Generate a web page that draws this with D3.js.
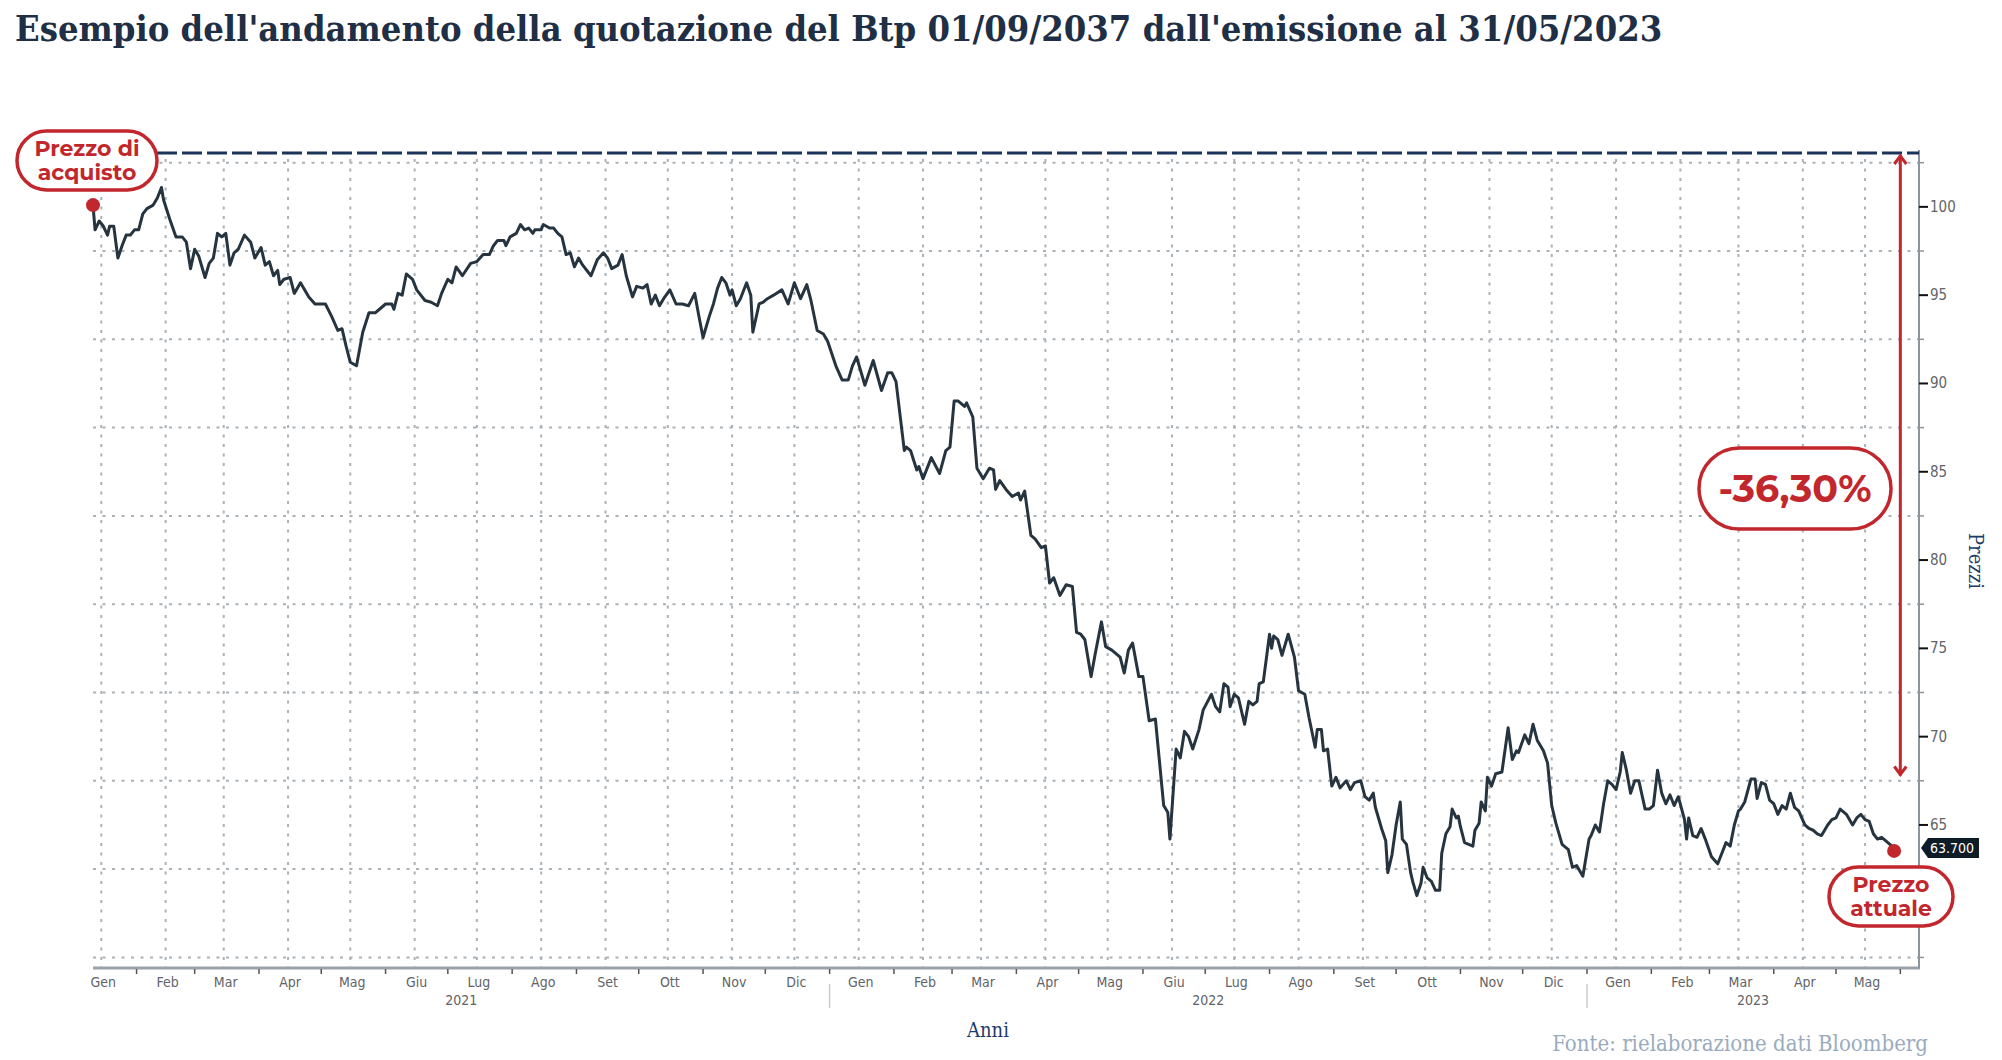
<!DOCTYPE html>
<html>
<head>
<meta charset="utf-8">
<title>Btp 01/09/2037</title>
<script type="text/javascript" src="https://cdnjs.cloudflare.com/ajax/libs/d3/7.8.5/d3.min.js"></script>
<style>
  body { margin: 0; background: #fff; }
</style>
</head>
<body>
<script type="text/javascript">
// prices (giorni, MM-DD)
var dates2021 = ['01-11','01-12','01-14','01-16','01-18','01-19','01-21','01-23','01-25','01-27','01-29','01-31',
  '02-02','02-04','02-06','02-09','02-11','02-13','02-14','02-17','02-20','02-23','02-25','02-27',
  '03-01','03-03','03-06','03-08','03-10','03-12','03-14','03-16','03-18','03-20','03-22','03-25','03-28','03-30',
  '04-02','04-04','04-06','04-08','04-10','04-11','04-13','04-16','04-18','04-21','04-25','04-28',
  '05-03','05-06','05-09','05-11','05-13','05-15','05-18','05-21','05-24','05-27',
  '06-01','06-04','06-05','06-07','06-09','06-11','06-14','06-16','06-20','06-23','06-26','06-28',
  '07-01','07-03','07-05','07-08','07-12','07-15','07-18','07-21','07-23','07-25','07-28','07-29','07-31',
  '08-03','08-05','08-07','08-09','08-11','08-12','08-15','08-16','08-19','08-21','08-23','08-25','08-27','08-29','08-31',
  '09-02','09-04','09-08','09-11','09-14','09-16','09-18','09-21','09-23','09-25','09-28','09-30',
  '10-03','10-05','10-07','10-09','10-11','10-13','10-16','10-19','10-22','10-25','10-28','10-30',
  '11-01','11-04','11-06','11-08','11-10','11-12','11-14','11-15','11-17','11-19','11-22','11-24','11-25','11-28','11-30',
  '12-02','12-05','12-09','12-12','12-15','12-18','12-21','12-23','12-26','12-29','12-31']
var prices2021 = [100.1,98.7,99.2,98.9,98.4,98.9,98.9,97.1,97.8,98.4,98.4,98.7,
  98.7,99.6,99.9,100.1,100.5,101.1,100.4,99.3,98.3,98.3,98.0,96.5,
  97.6,97.2,96.0,96.8,97.1,98.5,98.3,98.5,96.7,97.4,97.6,98.4,98.0,97.1,
  97.7,96.7,96.9,96.1,96.4,95.6,95.9,96.0,95.1,95.7,94.9,94.5,
  94.5,93.8,93.0,93.1,92.1,91.2,91.0,92.9,94.0,94.0,
  94.5,94.5,94.2,95.1,95.0,96.2,95.9,95.3,94.7,94.6,94.4,95.1,
  95.9,95.7,96.6,96.1,96.8,96.9,97.3,97.3,97.8,98.1,98.1,97.8,98.3,
  98.5,99.0,98.7,98.8,98.5,98.7,98.7,99.0,98.8,98.8,98.5,98.3,97.3,97.4,96.6,
  97.1,96.7,96.1,97.0,97.4,97.1,96.5,96.7,97.3,96.1,94.9,95.5,
  95.4,95.6,94.5,95.0,94.4,94.8,95.3,94.5,94.5,94.4,95.1,93.8,
  92.6,93.8,94.5,95.4,96.0,95.7,95.0,95.3,94.4,94.8,95.7,95.0,92.9,94.5,94.6,
  94.8,95.0,95.3,94.5,95.7,94.8,95.6,94.7,93.0,92.8,92.4]

var dates2022 = ['01-04','01-07','01-10','01-12','01-14','01-18','01-22','01-26','01-29','01-31',
  '02-02','02-06','02-07','02-09','02-12','02-13','02-15','02-19','02-23','02-26','02-28',
  '03-02','03-04','03-07','03-08','03-11','03-13','03-16','03-19','03-21','03-22','03-24','03-27','03-30',
  '04-02','04-03','04-05','04-08','04-10','04-13','04-15','04-17','04-19','04-22','04-25','04-28','04-30',
  '05-02','05-04','05-07','05-09','05-12','05-14','05-17','05-21','05-23','05-25','05-27','05-30',
  '06-01','06-04','06-07','06-11','06-13','06-14','06-17','06-19','06-21','06-23','06-25','06-28','06-30',
  '07-04','07-06','07-08','07-10','07-12','07-13','07-15','07-17','07-20','07-22','07-24','07-26','07-27','07-29',
  '08-01','08-02','08-03','08-05','08-07','08-10','08-13','08-15','08-18','08-20','08-23','08-24','08-26','08-27','08-29','08-31',
  '09-02','09-04','09-07','09-09','09-11','09-14','09-16','09-18','09-20','09-21','09-24','09-26','09-27','09-29',
  '10-01','10-03','10-04','10-06','10-08','10-09','10-11','10-13','10-14','10-16','10-18','10-20','10-22','10-23','10-25','10-27','10-28','10-30','10-31',
  '11-01','11-03','11-07','11-08','11-10','11-11','11-13','11-14','11-16','11-18','11-21','11-24','11-26','11-28','11-29',
  '12-02','12-04','12-06','12-08','12-11','12-13','12-15','12-17','12-20','12-23','12-25','12-27','12-30']
var prices2022 = [91.0,90.2,90.2,91.0,91.5,89.9,91.3,89.6,90.6,90.6,
  90.1,86.2,86.4,86.2,85.1,85.3,84.6,85.8,84.9,86.2,86.4,
  89.0,89.0,88.7,88.9,88.1,85.2,84.6,85.2,85.1,84.0,84.5,84.0,83.6,
  83.8,83.4,83.9,81.4,81.2,80.7,80.8,78.7,79.0,78.0,78.6,78.5,75.9,
  75.8,75.5,73.4,74.7,76.5,75.1,74.9,74.5,73.6,74.9,75.3,73.4,
  73.4,70.9,71.0,66.1,65.7,64.2,69.3,68.8,70.3,70.0,69.3,70.4,71.5,
  72.4,71.7,71.4,73.0,72.8,71.7,72.4,72.2,70.7,72.0,71.8,72.0,73.0,73.1,
  75.8,75.0,75.7,75.5,74.6,75.8,74.5,72.6,72.4,71.1,69.4,70.4,70.4,69.2,69.3,67.2,
  67.7,67.1,67.5,67.0,67.4,67.5,66.6,66.4,66.8,66.0,64.8,64.1,62.3,63.3,
  65.0,66.3,64.2,63.9,62.3,61.8,61.0,61.7,62.6,62.0,61.8,61.3,61.3,63.4,64.5,64.9,65.9,65.4,65.5,
  64.9,64.0,63.8,64.7,65.1,66.3,65.8,67.7,67.2,67.9,68.0,70.5,68.7,69.2,69.1,
  70.1,69.6,70.7,69.8,69.2,68.5,66.1,65.1,63.9,63.6,62.6,62.7,62.1]

var dates2023 = ['01-02','01-03','01-05','01-07','01-09','01-11','01-13','01-15','01-17','01-18','01-20','01-22','01-24','01-26','01-29','01-31',
  '02-02','02-04','02-06','02-08','02-10','02-12','02-14','02-17','02-18','02-19','02-21','02-23','02-25','02-27',
  '03-02','03-05','03-07','03-09','03-11','03-13','03-15','03-16','03-18','03-21','03-23','03-24','03-26','03-28','03-30',
  '04-01','04-03','04-05','04-07','04-09','04-11','04-13','04-16','04-18','04-20','04-22','04-24','04-27','04-29',
  '05-01','05-03','05-06','05-09','05-11','05-13','05-15','05-17','05-19','05-21','05-23','05-26','05-29']
var prices2023 = [64.2,64.4,65.0,64.6,66.2,67.5,67.3,67.0,68.0,69.1,68.1,66.8,67.5,67.5,65.9,65.9,
  66.1,68.1,66.8,66.2,66.7,66.1,66.6,65.3,64.2,65.4,64.4,64.3,64.8,64.2,
  63.2,62.8,63.4,64.0,63.8,65.0,65.8,65.9,66.3,67.6,67.6,66.5,67.4,67.3,66.4,
  66.2,65.6,66.1,65.9,66.8,66.0,65.8,65.0,64.8,64.7,64.5,64.4,65.0,65.3,
  65.4,65.9,65.6,65.0,65.4,65.6,65.3,65.2,64.5,64.2,64.3,64.0,63.7]

var monthNames = ['Gen','Feb','Mar','Apr','Mag','Giu','Lug','Ago','Set','Ott','Nov','Dic']
var years = [2021, 2022, 2023]
var yTicks = [65, 70, 75, 80, 85, 90, 95, 100]
var yGrid = [57.5, 62.5, 67.5, 72.5, 77.5, 82.5, 87.5, 92.5, 97.5, 102.5]
var lastLabel = '63.700'
var changeLabel = '-36,30%'

var parse = d3.timeParse('%Y-%m-%d')
var data = []
;[[2021, dates2021, prices2021], [2022, dates2022, prices2022], [2023, dates2023, prices2023]].forEach(function (s) {
  s[1].forEach(function (d, i) { data.push({ date: parse(s[0] + '-' + d), price: s[2][i] }) })
})

var W = 2002, H = 1060
var margin = { top: 153, right: 83, bottom: 92, left: 93 }
var x0 = margin.left, x1 = W - margin.right, y0 = margin.top, y1 = H - margin.bottom

var xScale = d3.scaleTime()
  .domain([new Date(2021, 0, 11), new Date(2023, 5, 10)])
  .range([x0, x1])
var yScale = d3.scaleLinear()
  .domain([56.9, 103.05])
  .range([y1, y0])

var red = '#c1272d'
var svg = d3.select('body').append('svg')
  .attr('width', W).attr('height', H)
  .style('font-family', 'Liberation Sans Narrow, DejaVu Sans Condensed, sans-serif')

// title
svg.append('text')
  .attr('x', 15).attr('y', 41)
  .attr('fill', '#1f2f45')
  .style('font-family', 'DejaVu Serif Condensed, DejaVu Serif, serif')
  .style('font-stretch', 'condensed')
  .style('font-weight', 'bold')
  .style('font-size', '36px')
  .text("Esempio dell'andamento della quotazione del Btp 01/09/2037 dall'emissione al 31/05/2023")

// grid
var midMonths = d3.timeMonth.range(new Date(2021, 0, 1), new Date(2023, 5, 1)).map(function (d) {
  return d3.timeDay.offset(d, 14)
})
svg.append('g').selectAll('line')
  .data(yGrid).enter().append('line')
  .attr('x1', x0).attr('x2', x1)
  .attr('y1', function (d) { return yScale(d) }).attr('y2', function (d) { return yScale(d) })
  .attr('stroke', '#aab1b7').attr('stroke-width', 2).attr('stroke-dasharray', '3,6.5')
svg.append('g').selectAll('line')
  .data(midMonths).enter().append('line')
  .attr('x1', function (d) { return xScale(d) }).attr('x2', function (d) { return xScale(d) })
  .attr('y1', y0 + 6).attr('y2', y1)
  .attr('stroke', '#aab1b7').attr('stroke-width', 2).attr('stroke-dasharray', '3,6.5')

// axes frame
svg.append('line').attr('x1', x0).attr('x2', x1 + 1).attr('y1', y1).attr('y2', y1)
  .attr('stroke', '#9aa1a7').attr('stroke-width', 3)
svg.append('line').attr('x1', x1).attr('x2', x1).attr('y1', y0 - 3).attr('y2', y1)
  .attr('stroke', '#8d959c').attr('stroke-width', 2)

// x axis: month boundary ticks, labels mid month, years
var monthStarts = d3.timeMonth.range(new Date(2021, 1, 1), new Date(2023, 5, 2))
svg.append('g').selectAll('line')
  .data(monthStarts).enter().append('line')
  .attr('x1', function (d) { return xScale(d) }).attr('x2', function (d) { return xScale(d) })
  .attr('y1', y1 + 1).attr('y2', y1 + 6)
  .attr('stroke', '#555').attr('stroke-width', 1.5)
svg.append('g').selectAll('text')
  .data(midMonths).enter().append('text')
  .attr('x', function (d) { return xScale(d) + 2 }).attr('y', y1 + 19)
  .attr('text-anchor', 'middle').attr('fill', '#5f6469')
  .style('font-size', '14px')
  .text(function (d) { return monthNames[d.getMonth()] })
svg.append('g').selectAll('text')
  .data(years).enter().append('text')
  .attr('x', function (d) {
    var a = Math.max(xScale(new Date(d, 0, 1)), x0)
    var b = Math.min(xScale(new Date(d + 1, 0, 1)), x1)
    return (a + b) / 2
  })
  .attr('y', y1 + 37)
  .attr('text-anchor', 'middle').attr('fill', '#5f6469')
  .style('font-size', '14px')
  .text(function (d) { return d })
svg.append('g').selectAll('line')
  .data(years.slice(1)).enter().append('line')
  .attr('x1', function (d) { return xScale(new Date(d, 0, 1)) }).attr('x2', function (d) { return xScale(new Date(d, 0, 1)) })
  .attr('y1', y1 + 16).attr('y2', y1 + 40)
  .attr('stroke', '#c8ccd0').attr('stroke-width', 1.5)

// y axis on the right
svg.append('g').selectAll('line')
  .data(yGrid.filter(function (d) { return d < 103 })).enter().append('line')
  .attr('x1', x1).attr('x2', x1 + 5)
  .attr('y1', function (d) { return yScale(d) }).attr('y2', function (d) { return yScale(d) })
  .attr('stroke', '#8d959c').attr('stroke-width', 1.5)
svg.append('g').selectAll('line')
  .data(yTicks).enter().append('line')
  .attr('x1', x1).attr('x2', x1 + 9)
  .attr('y1', function (d) { return yScale(d) }).attr('y2', function (d) { return yScale(d) })
  .attr('stroke', '#111').attr('stroke-width', 2)
svg.append('g').selectAll('text')
  .data(yTicks).enter().append('text')
  .attr('x', x1 + 11).attr('y', function (d) { return yScale(d) + 5 })
  .attr('fill', '#5f6469')
  .style('font-size', '15px')
  .text(function (d) { return d })

// price line
var line = d3.line()
  .x(function (d) { return xScale(d.date) })
  .y(function (d) { return yScale(d.price) })
svg.append('path')
  .datum(data)
  .attr('d', line)
  .attr('fill', 'none')
  .attr('stroke', '#26343f')
  .attr('stroke-width', 3)
  .attr('stroke-linejoin', 'round')

// last value tag
var last = data[data.length - 1]
var ly = yScale(63.7)
svg.append('path')
  .attr('d', 'M' + (x1 + 2) + ',' + ly + 'L' + (x1 + 9) + ',' + (ly - 10) + 'H' + (x1 + 60) + 'V' + (ly + 10) + 'H' + (x1 + 9) + 'Z')
  .attr('fill', '#0e1c27')
svg.append('text')
  .attr('x', x1 + 11).attr('y', ly + 5)
  .attr('fill', '#fff')
  .style('font-size', '14px')
  .text(lastLabel)

// purchase level dashed line
svg.append('line')
  .attr('x1', 157).attr('x2', x1).attr('y1', y0).attr('y2', y0)
  .attr('stroke', '#1b355a').attr('stroke-width', 3).attr('stroke-dasharray', '20,5')

// red arrow
var ax = xScale(new Date(2023, 5, 1))
var ayTop = y0 + 2, ayBot = yScale(67.8)
svg.append('line').attr('x1', ax).attr('x2', ax).attr('y1', ayTop).attr('y2', ayBot)
  .attr('stroke', red).attr('stroke-width', 3)
svg.append('polyline')
  .attr('points', [[ax - 6, ayTop + 9], [ax, ayTop + 1], [ax + 6, ayTop + 9]].join(' '))
  .attr('fill', 'none').attr('stroke', red).attr('stroke-width', 3)
svg.append('polyline')
  .attr('points', [[ax - 6, ayBot - 9], [ax, ayBot - 1], [ax + 6, ayBot - 9]].join(' '))
  .attr('fill', 'none').attr('stroke', red).attr('stroke-width', 3)

// annotations
function pill(x, y, w, h, lines, size, lineGap) {
  var g = svg.append('g')
  g.append('rect')
    .attr('x', x).attr('y', y).attr('width', w).attr('height', h)
    .attr('rx', h / 2).attr('ry', h / 2)
    .attr('fill', '#fff').attr('stroke', red).attr('stroke-width', 3.5)
  var cy = y + h / 2 - (lines.length - 1) * lineGap / 2
  lines.forEach(function (t, i) {
    g.append('text')
      .attr('x', x + w / 2).attr('y', cy + i * lineGap)
      .attr('dy', '0.36em')
      .attr('text-anchor', 'middle')
      .attr('fill', red)
      .style('font-family', 'Montserrat, Open Sans, sans-serif')
      .style('font-weight', 700)
      .style('font-size', size + 'px')
      .text(t)
  })
}
pill(17, 131, 140, 59, ['Prezzo di', 'acquisto'], 22, 24)
pill(1829, 867, 124, 59, ['Prezzo', 'attuale'], 22, 24)
pill(1699, 448, 192, 81, [changeLabel], 38, 0)

svg.append('circle')
  .attr('cx', xScale(data[0].date)).attr('cy', yScale(data[0].price)).attr('r', 7)
  .attr('fill', red)
svg.append('circle')
  .attr('cx', xScale(last.date)).attr('cy', yScale(last.price) + 3).attr('r', 7)
  .attr('fill', red)

// axis titles and source
svg.append('text')
  .attr('transform', 'translate(1969,561) rotate(90)')
  .attr('text-anchor', 'middle')
  .attr('fill', '#1b3a66')
  .style('font-family', 'DejaVu Serif Condensed, DejaVu Serif, serif')
  .style('font-stretch', 'condensed')
  .style('font-size', '20px')
  .text('Prezzi')
svg.append('text')
  .attr('x', 988).attr('y', 1037)
  .attr('text-anchor', 'middle')
  .attr('fill', '#1b3a66')
  .style('font-family', 'DejaVu Serif Condensed, DejaVu Serif, serif')
  .style('font-stretch', 'condensed')
  .style('font-size', '20px')
  .text('Anni')
svg.append('text')
  .attr('x', 1928).attr('y', 1051)
  .attr('text-anchor', 'end')
  .attr('fill', '#9aabbd')
  .style('font-family', 'DejaVu Serif Condensed, DejaVu Serif, serif')
  .style('font-stretch', 'condensed')
  .style('font-size', '22px')
  .text('Fonte: rielaborazione dati Bloomberg')
</script>
</body>
</html>
